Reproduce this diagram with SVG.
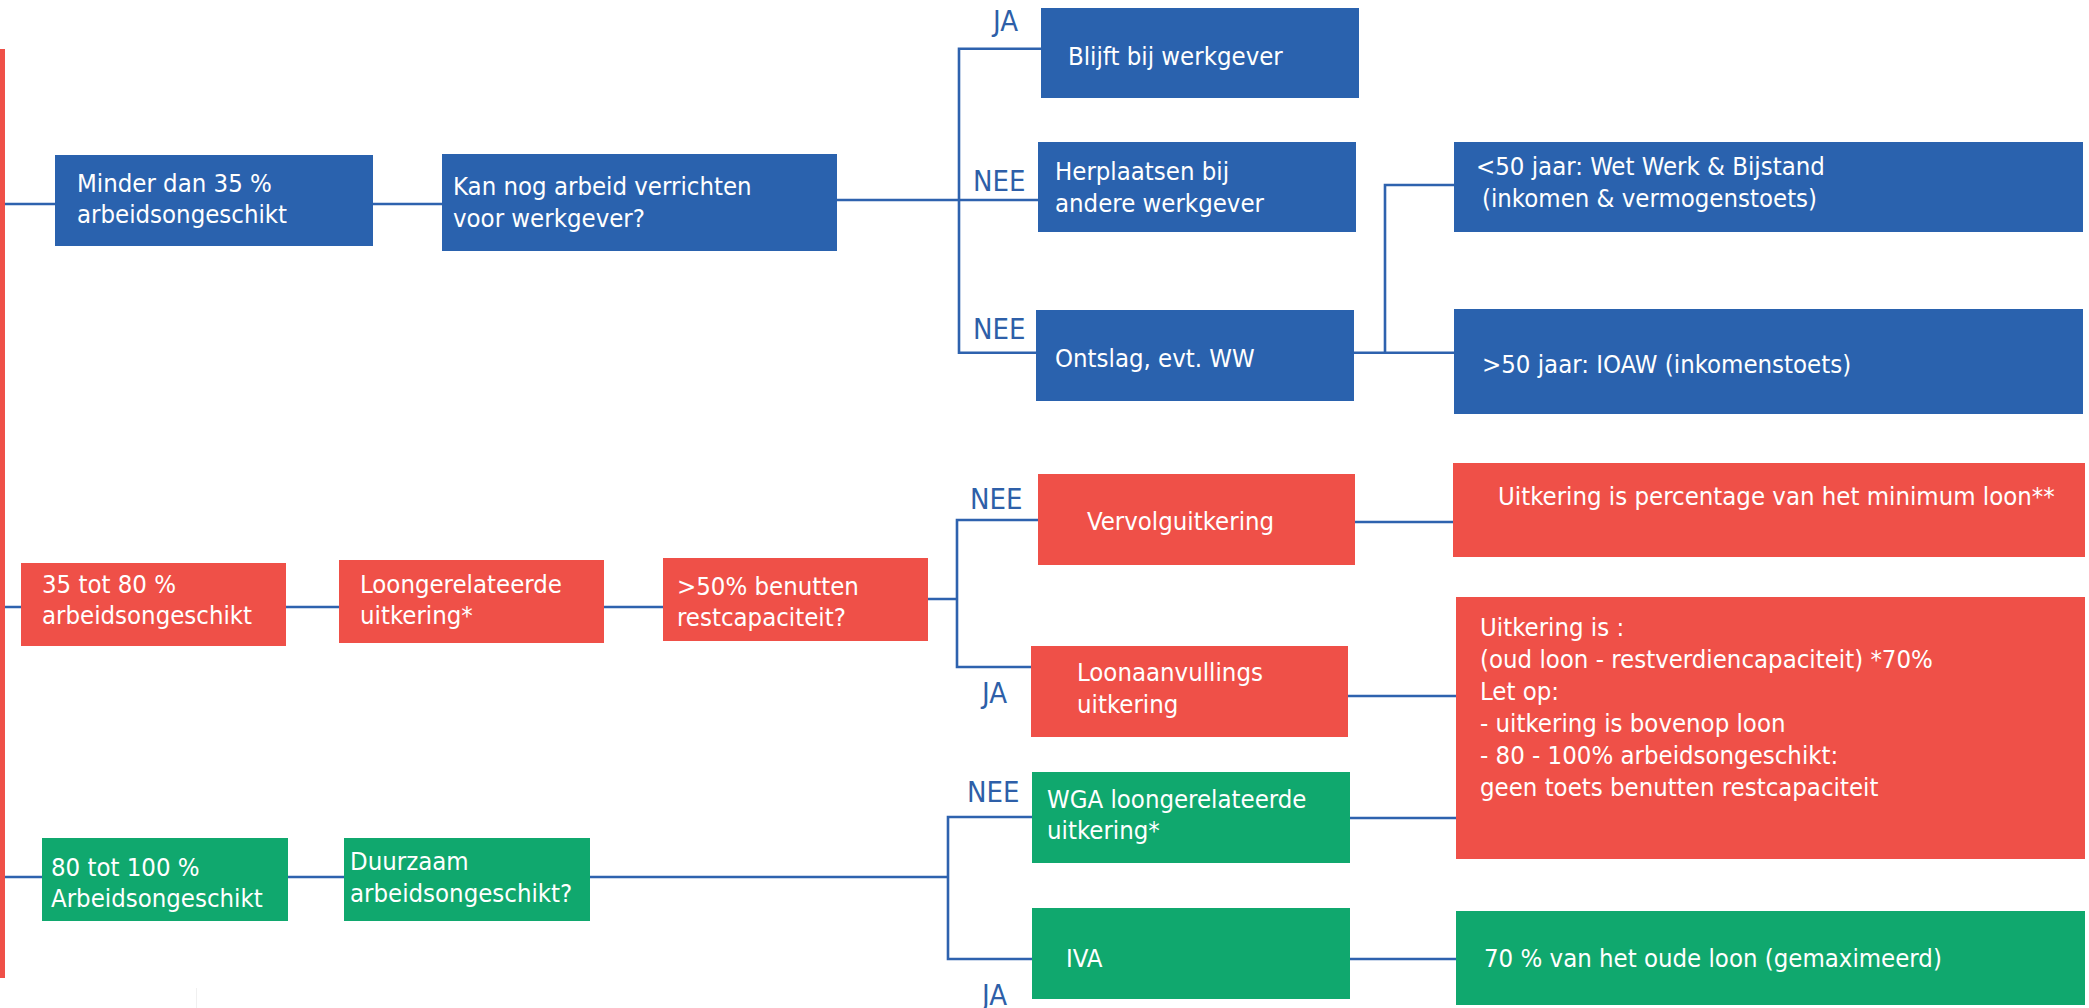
<svg xmlns="http://www.w3.org/2000/svg" width="2089" height="1008" viewBox="0 0 2089 1008">
<style>
.b{fill:#2A62AE}
.r{fill:#EF5048}
.g{fill:#10A86E}
.t{font-family:"DejaVu Sans Condensed","DejaVu Sans",sans-serif;font-stretch:condensed;font-size:25.5px;fill:#FFFFFF}
.l{font-family:"DejaVu Sans Condensed","DejaVu Sans",sans-serif;font-stretch:condensed;font-size:29px;fill:#2E5FA8}
.c{stroke:#2E62AE;stroke-width:2.6;fill:none}
</style>
<rect width="2089" height="1008" fill="#FFFFFF"/>
<rect id="sidebar" x="0" y="49" width="5" height="929" fill="#EF5048"/>
<line x1="196.5" y1="988" x2="196.5" y2="1008" stroke="#F0F0F0" stroke-width="1"/>
<g id="connectors">
<path class="c" d="M5 204H55M373 204H442M837 200H1038"/>
<path class="c" d="M1041 48.7H959V352.7H1036M1354 352.7H1454M1454 185H1385V352.7"/>
<path class="c" d="M5 607H21M286 607H339M604 607H663M928 599H957"/>
<path class="c" d="M1038 520H957V667H1031M1355 522H1453M1348 696H1456"/>
<path class="c" d="M5 877H42M288 877H344M590 877H948"/>
<path class="c" d="M1032 817H948V959H1032M1350 818H1456M1350 959H1456"/>
</g>
<g id="labels">
<text class="l" x="993" y="31">JA</text>
<text class="l" x="973" y="191">NEE</text>
<text class="l" x="973" y="339">NEE</text>
<text class="l" x="970" y="509">NEE</text>
<text class="l" x="982" y="703">JA</text>
<text class="l" x="967" y="802">NEE</text>
<text class="l" x="982" y="1005">JA</text>
</g>
<g id="n_minder"><rect class="b" x="55" y="155" width="318" height="91"/><text class="t" x="77" y="192">Minder dan 35 %</text><text class="t" x="77" y="223">arbeidsongeschikt</text></g>
<g id="n_kan"><rect class="b" x="442" y="154" width="395" height="97"/><text class="t" x="453" y="195">Kan nog arbeid verrichten</text><text class="t" x="453" y="227">voor werkgever?</text></g>
<g id="n_blijft"><rect class="b" x="1041" y="8" width="318" height="90"/><text class="t" x="1068" y="65">Blijft bij werkgever</text></g>
<g id="n_herplaatsen"><rect class="b" x="1038" y="142" width="318" height="90"/><text class="t" x="1055" y="180">Herplaatsen bij</text><text class="t" x="1055" y="212">andere werkgever</text></g>
<g id="n_ontslag"><rect class="b" x="1036" y="310" width="318" height="91"/><text class="t" x="1055" y="367">Ontslag, evt. WW</text></g>
<g id="n_lt50"><rect class="b" x="1454" y="142" width="629" height="90"/><text class="t" x="1476" y="175">&lt;50 jaar: Wet Werk &amp; Bijstand</text><text class="t" x="1482" y="207">(inkomen &amp; vermogenstoets)</text></g>
<g id="n_gt50"><rect class="b" x="1454" y="309" width="629" height="105"/><text class="t" x="1482" y="373">&gt;50 jaar: IOAW (inkomenstoets)</text></g>
<g id="n_35"><rect class="r" x="21" y="563" width="265" height="83"/><text class="t" x="42" y="593">35 tot 80 %</text><text class="t" x="42" y="624">arbeidsongeschikt</text></g>
<g id="n_loongerelateerde"><rect class="r" x="339" y="560" width="265" height="83"/><text class="t" x="360" y="593">Loongerelateerde</text><text class="t" x="360" y="624">uitkering*</text></g>
<g id="n_50"><rect class="r" x="663" y="558" width="265" height="83"/><text class="t" x="677" y="595">&gt;50% benutten</text><text class="t" x="677" y="626">restcapaciteit?</text></g>
<g id="n_vervolg"><rect class="r" x="1038" y="474" width="317" height="91"/><text class="t" x="1087" y="530">Vervolguitkering</text></g>
<g id="n_minimum"><rect class="r" x="1453" y="463" width="632" height="94"/><text class="t" x="1498" y="505">Uitkering is percentage van het minimum loon**</text></g>
<g id="n_loonaanvullings"><rect class="r" x="1031" y="646" width="317" height="91"/><text class="t" x="1077" y="681">Loonaanvullings</text><text class="t" x="1077" y="713">uitkering</text></g>
<g id="n_uitkering"><rect class="r" x="1456" y="597" width="629" height="262"/>
<text class="t" x="1480" y="636">Uitkering is :</text>
<text class="t" x="1480" y="668">(oud loon - restverdiencapaciteit) *70%</text>
<text class="t" x="1480" y="700">Let op:</text>
<text class="t" x="1480" y="732">- uitkering is bovenop loon</text>
<text class="t" x="1480" y="764">- 80 - 100% arbeidsongeschikt:</text>
<text class="t" x="1480" y="796">geen toets benutten restcapaciteit</text></g>
<g id="n_80"><rect class="g" x="42" y="838" width="246" height="83"/><text class="t" x="51" y="876">80 tot 100 %</text><text class="t" x="51" y="907">Arbeidsongeschikt</text></g>
<g id="n_duurzaam"><rect class="g" x="344" y="838" width="246" height="83"/><text class="t" x="350" y="870">Duurzaam</text><text class="t" x="350" y="902">arbeidsongeschikt?</text></g>
<g id="n_wga"><rect class="g" x="1032" y="772" width="318" height="91"/><text class="t" x="1047" y="808">WGA loongerelateerde</text><text class="t" x="1047" y="839">uitkering*</text></g>
<g id="n_iva"><rect class="g" x="1032" y="908" width="318" height="91"/><text class="t" x="1066" y="967">IVA</text></g>
<g id="n_70"><rect class="g" x="1456" y="911" width="629" height="94"/><text class="t" x="1484" y="967">70 % van het oude loon (gemaximeerd)</text></g>
</svg>
